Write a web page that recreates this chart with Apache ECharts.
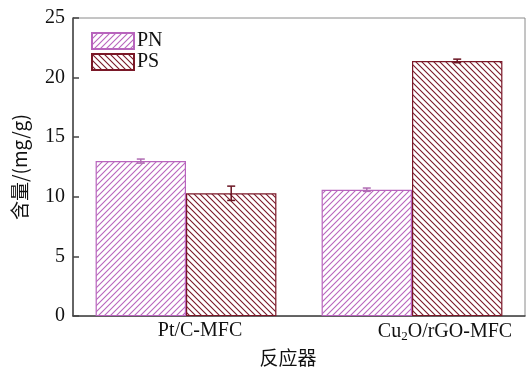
<!DOCTYPE html>
<html>
<head>
<meta charset="utf-8">
<script src="https://cdn.jsdelivr.net/npm/echarts@6/dist/echarts.min.js"></script>
<style>html,body{margin:0;padding:0;background:#fff}#c{width:527px;height:372px}</style>
</head>
<body>
<div id="c"></div>
<script>
var categories = ['Pt/C-MFC', 'Cu2O/rGO-MFC'];
var seriesNames = ['PN', 'PS'];
var pnValues = [13.0, 10.6];
var psValues = [10.3, 21.4];
var pnErrors = [0.17, 0.14];
var psErrors = [0.6, 0.15];
var yTicks = [0, 5, 10, 15, 20, 25];

var PN_COLOR = '#b865bd';
var PS_COLOR = '#7a1828';

function hatch(color, dir) {
  var s = 6;
  var c = document.createElement('canvas');
  c.width = s; c.height = s;
  var g = c.getContext('2d');
  g.fillStyle = '#fff';
  g.fillRect(0, 0, s, s);
  g.strokeStyle = color;
  g.lineWidth = 1.1;
  g.beginPath();
  if (dir > 0) {
    g.moveTo(-1, s + 1); g.lineTo(s + 1, -1);
    g.moveTo(-1, 1); g.lineTo(1, -1);
    g.moveTo(s - 1, s + 1); g.lineTo(s + 1, s - 1);
  } else {
    g.moveTo(-1, -1); g.lineTo(s + 1, s + 1);
    g.moveTo(s - 1, -1); g.lineTo(s + 1, 1);
    g.moveTo(-1, s - 1); g.lineTo(1, s + 1);
  }
  g.stroke();
  return { image: c, repeat: 'repeat' };
}

var font = 'Liberation Serif';
var chart = echarts.init(document.getElementById('c'));

function errSeries(values, errs, color, side) {
  return {
    type: 'custom',
    z: 10,
    data: values.map(function (v, i) { return [i, v - errs[i], v + errs[i]]; }),
    renderItem: function (params, api) {
      var band = api.size([1, 0])[0];
      var off = side * band * 0.8 / 4;
      var lo = api.coord([api.value(0), api.value(1)]);
      var hi = api.coord([api.value(0), api.value(2)]);
      var x = lo[0] + off;
      var w = 4;
      var st = { stroke: color, lineWidth: 1.5, fill: null };
      return {
        type: 'group',
        children: [
          { type: 'line', shape: { x1: x, y1: lo[1], x2: x, y2: hi[1] }, style: st },
          { type: 'line', shape: { x1: x - w, y1: lo[1], x2: x + w, y2: lo[1] }, style: st },
          { type: 'line', shape: { x1: x - w, y1: hi[1], x2: x + w, y2: hi[1] }, style: st }
        ]
      };
    },
    silent: true
  };
}

chart.setOption({
  animation: false,
  backgroundColor: '#fff',
  grid: { left: 73, right: 2, top: 18, bottom: 50, show: true, borderColor: '#8a8a8a', borderWidth: 1 },
  legend: {
    orient: 'vertical', left: 86, top: 26, itemWidth: 42, itemHeight: 16, itemGap: 1,
    icon: 'rect',
    textStyle: { fontFamily: font, fontSize: 20, lineHeight: 20, color: '#111', padding: [0, 0, 0, -2] },
    data: seriesNames
  },
  xAxis: {
    type: 'category',
    data: categories,
    name: '反应器',
    nameLocation: 'middle',
    nameGap: 28,
    nameTextStyle: { fontFamily: 'Noto Sans CJK SC', fontSize: 19, color: '#111', padding: [0, 22, 0, 0] },
    axisLine: { lineStyle: { color: '#444', width: 1.5 } },
    axisTick: { show: false },
    axisLabel: {
      interval: 0,
      margin: 5,
      color: '#111',
      fontFamily: font,
      fontSize: 20,
      formatter: function (v) {
        if (v === 'Cu2O/rGO-MFC') return '{c|Cu}{s|2}{a|O/rGO-MFC}';
        return '{p|Pt/C-MFC}';
      },
      rich: {
        p: { fontFamily: font, fontSize: 20, color: '#111', padding: [0, 0, 0, 28] },
        c: { fontFamily: font, fontSize: 20, color: '#111', padding: [0, 0, 0, 66] },
        a: { fontFamily: font, fontSize: 20, color: '#111' },
        s: { fontFamily: font, fontSize: 13, color: '#111', padding: [9, 0, 0, 0] }
      }
    }
  },
  yAxis: {
    type: 'value',
    min: 0, max: 25, interval: 5,
    name: '含量/(mg/g)',
    nameLocation: 'middle',
    nameGap: 44,
    nameTextStyle: { fontFamily: 'Noto Sans CJK SC', fontSize: 19, color: '#111' },
    axisLine: { show: true, lineStyle: { color: '#444', width: 1.5 } },
    axisTick: { show: true, inside: true, length: 6, lineStyle: { color: '#444', width: 1.5 } },
    splitLine: { show: false },
    axisLabel: {
      margin: 8, color: '#111', fontFamily: font, fontSize: 20,
      formatter: function (v) { return yTicks.indexOf(v) >= 0 ? String(v) : ''; }
    }
  },
  series: [
    {
      name: 'PN', type: 'bar', data: pnValues, barGap: '0%', barCategoryGap: '20%',
      itemStyle: { color: hatch(PN_COLOR, 1), borderColor: PN_COLOR, borderWidth: 1.2 }
    },
    {
      name: 'PS', type: 'bar', data: psValues, barGap: '0%', barCategoryGap: '20%',
      itemStyle: { color: hatch(PS_COLOR, -1), borderColor: PS_COLOR, borderWidth: 1.2 }
    },
    errSeries(pnValues, pnErrors, '#b06cb3', -1),
    errSeries(psValues, psErrors, '#6a1422', 1)
  ]
});
</script>
</body>
</html>
